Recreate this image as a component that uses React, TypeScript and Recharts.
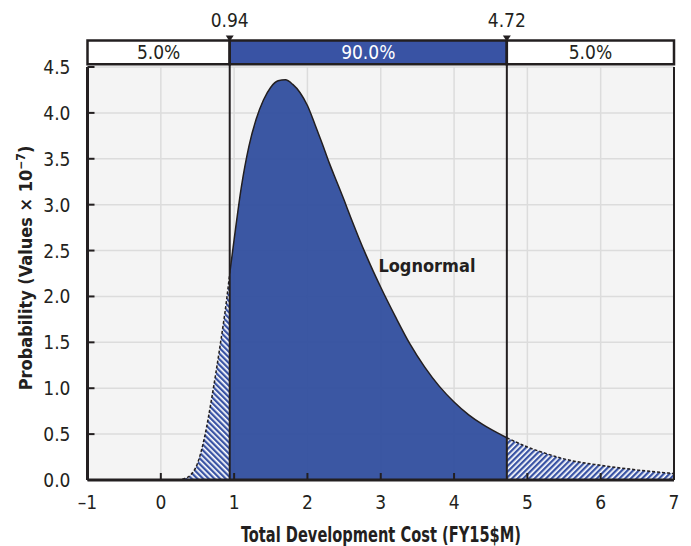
import React from 'react';
import {
  ComposedChart, Area, XAxis, YAxis, CartesianGrid, ReferenceArea, ReferenceLine, ReferenceDot,
} from 'recharts';

// ---- data ----
const costX = [
  -1, -0.5, 0, 0.2, 0.25, 0.3, 0.4, 0.5, 0.6, 0.7, 0.8, 0.9, 0.94,
  1.0, 1.1, 1.2, 1.3, 1.4, 1.5, 1.6, 1.7, 1.8, 1.9, 2.0,
  2.1, 2.2, 2.3, 2.4, 2.5, 2.6, 2.7, 2.8, 2.9, 3.0,
  3.2, 3.4, 3.6, 3.8, 4.0, 4.2, 4.4, 4.6, 4.72,
  5.0, 5.25, 5.5, 6.0, 6.5, 7.0,
];
const probability = [
  0, 0, 0, 0, 0, 0.01, 0.05, 0.18, 0.48, 0.92, 1.42, 1.98, 2.25,
  2.62, 3.2, 3.63, 3.93, 4.14, 4.28, 4.35, 4.36, 4.31, 4.22, 4.08,
  3.88, 3.67, 3.45, 3.25, 3.05, 2.84, 2.64, 2.45, 2.27, 2.10,
  1.78, 1.48, 1.23, 1.02, 0.85, 0.71, 0.60, 0.51, 0.46,
  0.36, 0.29, 0.23, 0.16, 0.11, 0.07,
];
const lowerBound = 0.94;
const upperBound = 4.72;
const bandLabels = ['5.0%', '90.0%', '5.0%'];
const xTicks = [-1, 0, 1, 2, 3, 4, 5, 6, 7];
const yTicks = [0, 0.5, 1, 1.5, 2, 2.5, 3, 3.5, 4, 4.5];
const seriesName = 'Lognormal';

const rows = costX.map((x, i) => ({
  x,
  left: x <= lowerBound ? probability[i] : null,
  mid: x >= lowerBound && x <= upperBound ? probability[i] : null,
  right: x >= upperBound ? probability[i] : null,
}));

const FONT = '"DejaVu Sans Condensed", "DejaVu Sans", sans-serif';
const STRETCH = 'condensed';
const INK = '#231f20';
const BLUE = '#3953a4';
const BAND_LOW = 4.53;
const BAND_HIGH = 4.79;

const txt = { fontFamily: FONT, fontStretch: STRETCH } as React.CSSProperties;

const XTick = (props: any) => {
  const { x, y, payload } = props;
  const v = payload.value as number;
  const label = v < 0 ? '\u2013' + Math.abs(v) : String(v);
  return (
    <g>
      <line x1={x} x2={x} y1={y} y2={y - 7} stroke={INK} strokeWidth={2} />
      <text x={x} y={y + 29} textAnchor="middle" style={txt} fontSize={19} fill={INK}>{label}</text>
    </g>
  );
};

const YTick = (props: any) => {
  const { x, y, payload } = props;
  const v = payload.value as number;
  return (
    <g>
      <line x1={x} x2={x + 7} y1={y} y2={y} stroke={INK} strokeWidth={2} />
      <text x={x - 17} y={y + 7} textAnchor="end" style={txt} fontSize={19} fill={INK}>{v.toFixed(1)}</text>
    </g>
  );
};

const Marker = (props: any) => {
  const { cx, cy } = props;
  return <path d={`M${cx - 4},${cy - 5} L${cx + 4},${cy - 5} L${cx},${cy + 1} Z`} fill={INK} />;
};

const labelStyle = (fill: string, bold = false, size = 19) => ({
  fill, fontSize: size, fontFamily: FONT, fontWeight: bold ? 'bold' : 'normal', style: { fontStretch: STRETCH },
});

export default function App() {
  return (
    <ComposedChart
      width={683}
      height={538}
      data={rows}
      margin={{ top: 59, right: 17, bottom: 36, left: 34.5 }}
    >
      <defs>
        <pattern id="hatchL" patternUnits="userSpaceOnUse" width="4" height="4" patternTransform="rotate(-45)">
          <rect width="4" height="4" fill="#ffffff" />
          <rect width="2.3" height="4" fill={BLUE} />
        </pattern>
        <pattern id="hatchR" patternUnits="userSpaceOnUse" width="4" height="4" patternTransform="rotate(45)">
          <rect width="4" height="4" fill="#ffffff" />
          <rect width="2.3" height="4" fill={BLUE} />
        </pattern>
      </defs>
      <CartesianGrid fill="#f4f4f4" stroke="#dcdcdc" strokeWidth={1.5} />
      <XAxis
        type="number"
        dataKey="x"
        domain={[-1, 7]}
        ticks={xTicks}
        allowDataOverflow
        height={30}
        tickSize={0}
        tickMargin={0}
        tick={<XTick />}
        axisLine={{ stroke: INK, strokeWidth: 3 }}
        tickLine={false}
      />
      <YAxis
        type="number"
        domain={[0, 4.5]}
        ticks={yTicks}
        allowDataOverflow
        width={45}
        tickSize={0}
        tickMargin={0}
        tick={<YTick />}
        axisLine={{ stroke: INK, strokeWidth: 3 }}
        tickLine={false}
      />
      <Area
        type="monotone"
        dataKey="left"
        stroke={INK}
        strokeWidth={1.5}
        strokeDasharray="3 2"
        fill="url(#hatchL)"
        fillOpacity={1}
        connectNulls={false}
        isAnimationActive={false}
        dot={false}
        activeDot={false}
      />
      <Area
        type="monotone"
        dataKey="right"
        stroke={INK}
        strokeWidth={1.5}
        strokeDasharray="3 2"
        fill="url(#hatchR)"
        fillOpacity={1}
        connectNulls={false}
        isAnimationActive={false}
        dot={false}
        activeDot={false}
      />
      <Area
        type="monotone"
        dataKey="mid"
        stroke={INK}
        strokeWidth={1.5}
        fill="#33509f"
        fillOpacity={0.96}
        connectNulls={false}
        isAnimationActive={false}
        dot={false}
        activeDot={false}
      />
      <ReferenceLine x={7} stroke={INK} strokeWidth={2} />
      <ReferenceArea
        x1={-1} x2={lowerBound} y1={BAND_LOW} y2={BAND_HIGH}
        ifOverflow="visible" fill="#ffffff" fillOpacity={1} stroke={INK} strokeWidth={2.5}
        label={{ value: bandLabels[0], position: 'center', ...labelStyle(INK) }}
      />
      <ReferenceArea
        x1={lowerBound} x2={upperBound} y1={BAND_LOW} y2={BAND_HIGH}
        ifOverflow="visible" fill={BLUE} fillOpacity={1} stroke={INK} strokeWidth={2.5}
        label={{ value: bandLabels[1], position: 'center', ...labelStyle('#ffffff') }}
      />
      <ReferenceArea
        x1={upperBound} x2={7} y1={BAND_LOW} y2={BAND_HIGH}
        ifOverflow="visible" fill="#ffffff" fillOpacity={1} stroke={INK} strokeWidth={2.5}
        label={{ value: bandLabels[2], position: 'center', ...labelStyle(INK) }}
      />
      <ReferenceLine
        segment={[{ x: lowerBound, y: 0 }, { x: lowerBound, y: BAND_HIGH }]}
        ifOverflow="visible" stroke={INK} strokeWidth={2}
      />
      <ReferenceLine
        segment={[{ x: upperBound, y: 0 }, { x: upperBound, y: BAND_HIGH }]}
        ifOverflow="visible" stroke={INK} strokeWidth={2}
      />
      <ReferenceDot
        x={lowerBound} y={BAND_HIGH} r={3} ifOverflow="visible" shape={<Marker />}
        label={{ value: String(lowerBound), position: 'top', offset: 10, ...labelStyle(INK) }}
      />
      <ReferenceDot
        x={upperBound} y={BAND_HIGH} r={3} ifOverflow="visible" shape={<Marker />}
        label={{ value: String(upperBound), position: 'top', offset: 10, ...labelStyle(INK) }}
      />
      <ReferenceDot
        x={3.63} y={2.34} r={1} fill="none" stroke="none"
        label={{ value: seriesName, position: 'center', ...labelStyle(INK, true, 18) }}
      />
      <text x={373} y={534} textAnchor="middle" style={txt} fontSize={21} fontWeight="bold" fill={INK}
        textLength={280} lengthAdjust="spacingAndGlyphs">
        Total Development Cost (FY15$M)
      </text>
      <text transform="translate(24,260) rotate(-90)" textAnchor="middle" style={txt} fontSize={18} fontWeight="bold" fill={INK}>
        Probability (Values × 10<tspan dy={-7} fontSize={12}>−7</tspan><tspan dy={7}>)</tspan>
      </text>
    </ComposedChart>
  );
}
